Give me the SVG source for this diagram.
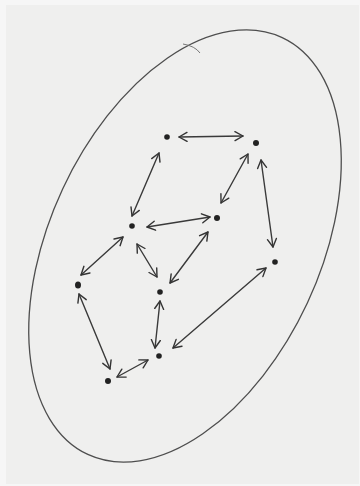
<svg xmlns="http://www.w3.org/2000/svg" width="360" height="486" viewBox="0 0 360 486">
<defs>
<style>
.e{fill:none;stroke:#3a3a3a;stroke-width:1.4;stroke-linecap:round}
.n{fill:#222}
.paper{fill:#efefee}
</style>
<marker id="ah" viewBox="-9 -6 11 12" refX="0" refY="0" markerWidth="11" markerHeight="12" markerUnits="userSpaceOnUse" orient="auto-start-reverse">
<polyline points="-8,-4.5 0,0 -8,4.5" fill="none" stroke="#333" stroke-width="1.4" stroke-linecap="round" stroke-linejoin="round"/>
</marker>
</defs>
<rect width="360" height="486" fill="#f6f6f6"/>
<rect class="paper" x="6" y="5" width="353" height="479"/>
<ellipse cx="185" cy="246" rx="135" ry="230" transform="rotate(25 185 246)" fill="none" stroke="#4e4e4e" stroke-width="1.3"/>
<path d="M183,44 Q195,46 200,53" fill="none" stroke="#777" stroke-width="1"/>
<g id="connectors">
<line class="e" x1="179" y1="137" x2="243" y2="136" marker-start="url(#ah)" marker-end="url(#ah)"/>
<line class="e" x1="159" y1="153" x2="132" y2="216" marker-start="url(#ah)" marker-end="url(#ah)"/>
<line class="e" x1="248" y1="154" x2="221" y2="203" marker-start="url(#ah)" marker-end="url(#ah)"/>
<line class="e" x1="261" y1="160" x2="273" y2="247" marker-start="url(#ah)" marker-end="url(#ah)"/>
<line class="e" x1="147" y1="227" x2="210" y2="217" marker-start="url(#ah)" marker-end="url(#ah)"/>
<line class="e" x1="123" y1="237" x2="81" y2="275" marker-start="url(#ah)" marker-end="url(#ah)"/>
<line class="e" x1="137" y1="244" x2="157" y2="277" marker-start="url(#ah)" marker-end="url(#ah)"/>
<line class="e" x1="208" y1="232" x2="170" y2="283" marker-start="url(#ah)" marker-end="url(#ah)"/>
<line class="e" x1="266" y1="268" x2="173" y2="348" marker-start="url(#ah)" marker-end="url(#ah)"/>
<line class="e" x1="160" y1="301" x2="155" y2="348" marker-start="url(#ah)" marker-end="url(#ah)"/>
<line class="e" x1="79" y1="294" x2="110" y2="369" marker-start="url(#ah)" marker-end="url(#ah)"/>
<line class="e" x1="148" y1="360" x2="117" y2="377" marker-start="url(#ah)" marker-end="url(#ah)"/>
</g>
<g id="nA"><circle class="n" cx="167" cy="137" r="2.8"/></g>
<g id="nB"><circle class="n" cx="256" cy="143" r="3"/></g>
<g id="nC"><circle class="n" cx="132" cy="226" r="2.8"/></g>
<g id="nD"><circle class="n" cx="217" cy="218" r="3"/></g>
<g id="nE"><circle class="n" cx="275" cy="262" r="2.8"/></g>
<g id="nF"><ellipse class="n" cx="78" cy="285" rx="3" ry="3.6"/></g>
<g id="nG"><circle class="n" cx="160" cy="292" r="2.8"/></g>
<g id="nH"><circle class="n" cx="159" cy="356" r="2.8"/></g>
<g id="nI"><circle class="n" cx="108" cy="381" r="3"/></g>
</svg>
